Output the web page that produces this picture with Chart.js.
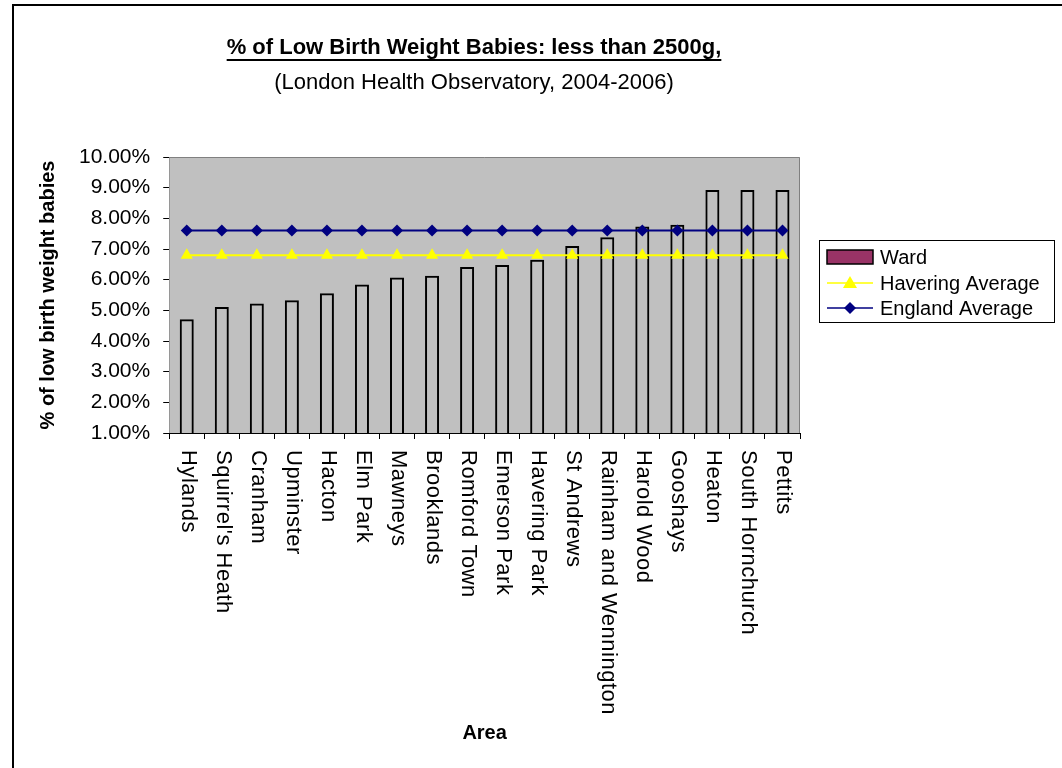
<!DOCTYPE html>
<html>
<head>
<meta charset="utf-8">
<script src="https://cdn.jsdelivr.net/npm/chart.js@4.4.1/dist/chart.umd.min.js"></script>
<style>
  body { margin: 0; background: #fff; }
  #wrap { width: 1062px; height: 768px; position: relative; }
</style>
</head>
<body>
<div id="wrap"><canvas id="lbw-chart" width="1062" height="768"></canvas></div>
<script>
const areas = [
  'Hylands', "Squirrel's Heath", 'Cranham', 'Upminster', 'Hacton', 'Elm Park',
  'Mawneys', 'Brooklands', 'Romford Town', 'Emerson Park', 'Havering Park',
  'St Andrews', 'Rainham and Wennington', 'Harold Wood', 'Gooshays', 'Heaton',
  'South Hornchurch', 'Pettits'
];
const wardValues = [4.71, 5.11, 5.22, 5.33, 5.56, 5.84, 6.07, 6.13, 6.41, 6.48, 6.65, 7.10, 7.38, 7.73, 7.79, 8.92, 8.92, 8.92];
const haveringAverage = [6.8, 6.8, 6.8, 6.8, 6.8, 6.8, 6.8, 6.8, 6.8, 6.8, 6.8, 6.8, 6.8, 6.8, 6.8, 6.8, 6.8, 6.8];
const englandAverage = [7.6, 7.6, 7.6, 7.6, 7.6, 7.6, 7.6, 7.6, 7.6, 7.6, 7.6, 7.6, 7.6, 7.6, 7.6, 7.6, 7.6, 7.6];

const chartTitle = '% of Low Birth Weight Babies: less than 2500g,';
const chartSubtitle = '(London Health Observatory, 2004-2006)';
const font = '"Liberation Sans", Arial, sans-serif';

// grey plot area, frame, titles, downward x labels and the boxed legend
const excelLook = {
  id: 'excelLook',
  beforeDatasetsDraw(chart) {
    const { ctx, chartArea: a } = chart;
    ctx.save();
    ctx.fillStyle = '#c0c0c0';
    ctx.fillRect(a.left, a.top, a.right - a.left, a.bottom - a.top);
    ctx.strokeStyle = '#808080';
    ctx.lineWidth = 1;
    ctx.beginPath();
    ctx.moveTo(a.left, a.top + 0.5);
    ctx.lineTo(a.right - 0.5, a.top + 0.5);
    ctx.lineTo(a.right - 0.5, a.bottom);
    ctx.stroke();
    ctx.restore();
  },
  afterDraw(chart) {
    const { ctx } = chart;
    const xScale = chart.scales.x;
    ctx.save();
    // outer frame
    ctx.strokeStyle = '#000';
    ctx.lineWidth = 2;
    ctx.beginPath();
    ctx.moveTo(13, 768);
    ctx.lineTo(13, 5);
    ctx.lineTo(1062, 5);
    ctx.stroke();

    // titles
    const cx = 474;
    ctx.fillStyle = '#000';
    ctx.textAlign = 'center';
    ctx.textBaseline = 'alphabetic';
    ctx.font = 'bold 22px ' + font;
    ctx.fillText(chartTitle, cx, 54);
    const tw = ctx.measureText(chartTitle).width;
    ctx.fillRect(cx - tw / 2, 59, tw, 2);
    ctx.font = '22px ' + font;
    ctx.fillText(chartSubtitle, cx, 89);

    // category labels, reading top to bottom
    ctx.save();
    ctx.font = '22px ' + font;
    ctx.letterSpacing = '0.5px';
    ctx.textAlign = 'left';
    ctx.textBaseline = 'middle';
    areas.forEach((name, i) => {
      ctx.save();
      ctx.translate(xScale.getPixelForTick(i) + 1, xScale.top + 17);
      ctx.rotate(Math.PI / 2);
      ctx.fillText(name, 0, 0);
      ctx.restore();
    });
    ctx.restore();

    // legend
    const lx = 819, ly = 240, lw = 235, lh = 82;
    ctx.fillStyle = '#fff';
    ctx.fillRect(lx, ly, lw, lh);
    ctx.strokeStyle = '#000';
    ctx.lineWidth = 1;
    ctx.strokeRect(lx + 0.5, ly + 0.5, lw, lh);
    ctx.font = '20px ' + font;
    ctx.textAlign = 'left';
    ctx.textBaseline = 'middle';
    const rows = [257, 283, 308];
    chart.data.datasets.forEach((ds, i) => {
      const y = rows[i];
      if (ds.type === 'bar') {
        ctx.fillStyle = '#993366';
        ctx.fillRect(827, y - 7, 46, 14);
        ctx.strokeStyle = '#000';
        ctx.lineWidth = 1.5;
        ctx.strokeRect(827, y - 7, 46, 14);
      } else {
        ctx.strokeStyle = ds.borderColor;
        ctx.lineWidth = 1.5;
        ctx.beginPath();
        ctx.moveTo(827, y);
        ctx.lineTo(873, y);
        ctx.stroke();
        ctx.fillStyle = ds.pointBackgroundColor;
        ctx.beginPath();
        if (ds.pointStyle === 'triangle') {
          ctx.moveTo(850, y - 7);
          ctx.lineTo(857, y + 5);
          ctx.lineTo(843, y + 5);
        } else {
          ctx.moveTo(850, y - 6);
          ctx.lineTo(856, y);
          ctx.lineTo(850, y + 6);
          ctx.lineTo(844, y);
        }
        ctx.closePath();
        ctx.fill();
      }
      ctx.fillStyle = '#000';
      ctx.fillText(ds.label, 880, y + 1);
    });
    ctx.restore();
  }
};

const ctx = document.getElementById('lbw-chart').getContext('2d');
new Chart(ctx, {
  data: {
    labels: areas,
    datasets: [
      {
        type: 'bar',
        label: 'Ward',
        data: wardValues,
        backgroundColor: 'rgba(0,0,0,0)',
        borderColor: '#000',
        borderWidth: 2,
        barPercentage: 0.4,
        categoryPercentage: 1,
        order: 3
      },
      {
        type: 'line',
        label: 'Havering Average',
        data: haveringAverage,
        borderColor: '#ffff00',
        borderWidth: 2,
        pointStyle: 'triangle',
        pointRadius: 7,
        pointBackgroundColor: '#ffff00',
        pointBorderColor: '#ffff00',
        pointBorderWidth: 0,
        order: 2
      },
      {
        type: 'line',
        label: 'England Average',
        data: englandAverage,
        borderColor: '#000080',
        borderWidth: 2,
        pointStyle: 'rectRot',
        pointRadius: 6,
        pointBackgroundColor: '#000080',
        pointBorderColor: '#000080',
        pointBorderWidth: 0,
        order: 1
      }
    ]
  },
  options: {
    responsive: false,
    animation: false,
    layout: { padding: { left: 32, top: 157, right: 262, bottom: 13 } },
    plugins: {
      legend: { display: false },
      tooltip: { enabled: false }
    },
    scales: {
      x: {
        grid: { offset: true, drawOnChartArea: false, color: '#000', tickLength: 6 },
        border: { color: '#000', width: 1 },
        ticks: {
          // the labels themselves are drawn by excelLook
          color: 'rgba(0,0,0,0)',
          font: { family: font, size: 22 },
          maxRotation: 90,
          minRotation: 90,
          autoSkip: false,
          padding: 10
        },
        afterFit(scale) {
          scale.height = 322;
        },
        title: {
          display: true,
          text: 'Area',
          color: '#000',
          font: { family: font, size: 20, weight: 'bold' },
          padding: { top: 8, bottom: 10 }
        }
      },
      y: {
        min: 1,
        max: 10,
        grid: { drawOnChartArea: false, color: '#000', tickLength: 6 },
        border: { color: '#000', width: 1 },
        ticks: {
          stepSize: 1,
          color: '#000',
          font: { family: font, size: 21 },
          padding: 13,
          callback: v => v.toFixed(2) + '%'
        },
        title: {
          display: true,
          text: '% of low birth weight babies',
          color: '#000',
          font: { family: font, size: 20, weight: 'bold' },
          padding: { bottom: 6 }
        }
      }
    }
  },
  plugins: [excelLook]
});
</script>
</body>
</html>
